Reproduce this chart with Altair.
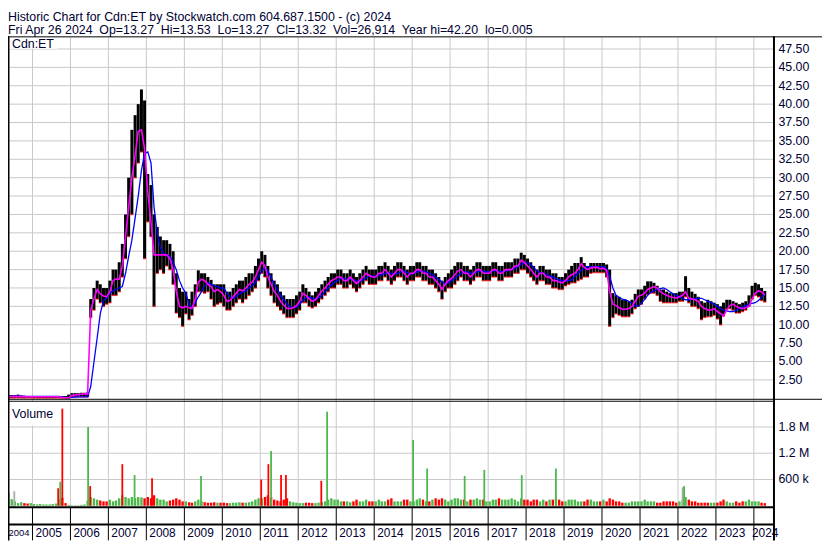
import altair as alt
import pandas as pd

TITLE1 = "Historic Chart for Cdn:ET by Stockwatch.com 604.687.1500 - (c) 2024"
TITLE2 = ("Fri Apr 26 2024\u00a0 Op=13.27\u00a0 Hi=13.53\u00a0 Lo=13.27\u00a0 Cl=13.32\u00a0 "
          "Vol=26,914\u00a0 Year hi=42.20\u00a0 lo=0.005")

# ---- monthly price data, May 2004 .. Apr 2024 ----
hi = [
    0.45, 0.45, 0.45, 0.5, 0.4, 0.35, 0.3, 0.3,                      # 2004 May-Dec
    0.3, 0.3, 0.3, 0.25, 0.25, 0.25, 0.25, 0.25, 0.3, 0.3, 0.3, 0.5,  # 2005
    0.7, 0.7, 0.7, 0.75, 0.75, 0.8, 13.5, 15, 16, 15.5, 15, 15,      # 2006
    16, 17.5, 17.5, 18.5, 21, 25, 30, 36.5, 38.5, 40, 42, 40.5,      # 2007
    30.5, 29, 25, 23.3, 22, 21.5, 21.5, 21, 20, 17, 15, 14.5,        # 2008
    14.5, 13.5, 14.5, 15.5, 17.4, 17, 17, 16.5, 16.1, 15.5, 15.5, 15.5,  # 2009
    15.5, 14.5, 14.5, 15, 15.5, 16, 16, 16.5, 17, 17, 18, 19,        # 2010
    20, 19.5, 18, 17, 16, 15.5, 14.5, 14, 13.5, 13.5, 13.5, 14,      # 2011
    14.5, 15.5, 15, 14.5, 14, 14.5, 15, 15.5, 16, 16.5, 17, 17,      # 2012
    17.5, 17.5, 17, 17, 17.5, 17, 16.5, 17, 17.5, 18, 17.5, 17.5,    # 2013
    17.5, 18, 18, 18.5, 18, 17.5, 18, 18.5, 18.5, 18, 17.5, 18,      # 2014
    18, 18.5, 18.5, 18, 18, 17.5, 17.5, 17, 16.5, 16, 16.5, 17,      # 2015
    17.5, 18, 18.5, 18.5, 18, 18, 17.5, 18, 18.5, 18.5, 18, 18,      # 2016
    18, 18.5, 18.5, 18, 18, 18.5, 18.5, 18.5, 19, 19, 19.8, 19.5,    # 2017
    19, 18.5, 18, 17.5, 18, 18, 17.5, 17.5, 17, 17, 16.5, 16.5,      # 2018
    17, 17.5, 18, 18.4, 18.4, 19.2, 18.4, 18, 18.4, 18.4, 18.4, 18.4,  # 2019
    18.4, 18.2, 17.5, 14.3, 14, 13.8, 13.4, 13.4, 13.2, 13.4, 14.2, 14.8,  # 2020
    14.8, 15.3, 15.9, 15.9, 15.7, 15.3, 14.8, 14.8, 14.5, 14.3, 14.3, 14.3,  # 2021
    14.5, 14.5, 16.6, 15, 14.5, 14.2, 13.8, 13.2, 13, 13.4, 13.2, 13,  # 2022
    12.8, 12.5, 13, 13.4, 13.4, 13.2, 13, 12.8, 13, 13.2, 14, 15.3,  # 2023
    15.7, 15.5, 15, 14.6,                                            # 2024
]
lo = [
    0.05, 0.05, 0.05, 0.05, 0.05, 0.05, 0.05, 0.05,
    0.03, 0.03, 0.03, 0.03, 0.03, 0.03, 0.03, 0.03, 0.03, 0.03, 0.03, 0.03,
    0.2, 0.2, 0.2, 0.2, 0.2, 0.2, 11, 12, 13.5, 13, 12.5, 12.8,
    13, 14, 14, 14.5, 16.5, 19, 22, 25, 30, 32, 33.5, 19,
    24, 22, 12.5, 17, 17.5, 17, 18, 17.5, 15.5, 11.6, 11, 9.8,
    11.5, 10.7, 11.3, 12.5, 14.5, 14.5, 14.3, 14.5, 13.5, 12.5, 12.8, 13,
    12.5, 12, 12, 12.5, 13, 13.5, 13, 13.5, 14, 14.5, 15, 16,
    17, 16.5, 15, 14, 13, 12.5, 12, 11.5, 11, 11, 11, 11.5,
    12, 13, 13, 12.5, 12.3, 12.5, 13, 13.5, 14, 14.5, 15, 15,
    15.5, 15.5, 15, 15, 15.5, 15, 14.5, 15, 15.5, 16, 15.5, 15.5,
    15.5, 16, 16, 16.5, 16, 15.5, 16, 16.5, 16.5, 16, 15.5, 16,
    16, 16.5, 16.5, 16, 16, 15.5, 15.5, 15, 14.5, 13.5, 14.5, 15,
    15, 15.5, 16, 16.5, 16, 16, 15.5, 16, 16.5, 16.5, 16, 16,
    16, 16.5, 16.5, 16, 16, 16.5, 16.5, 16.5, 17, 17, 17.5, 17.5,
    17, 16.5, 16, 15.5, 16, 16, 15.5, 15.5, 15, 15, 14.8, 14.8,
    15.3, 15.5, 15.7, 15.7, 16, 16.2, 16.5, 16.5, 17, 17.1, 17.1, 17.1,
    17.1, 16.5, 9.8, 11, 11.5, 11.3, 11.1, 11.1, 11.1, 11.5, 12.2, 12.5,
    12.8, 13.5, 14.1, 14.3, 14.3, 14, 13.2, 13, 13, 13, 13, 13,
    13.2, 13.2, 13.8, 13, 12.5, 12.5, 12.2, 10.7, 11, 11.1, 11.1, 11.3,
    10.8, 10, 11.2, 12.1, 12.2, 12, 11.6, 11.6, 11.8, 12, 12.5, 13.5,
    14, 13.8, 13.3, 13.1,
]
ma_fast = [
    0.25, 0.25, 0.25, 0.25, 0.25, 0.22, 0.2, 0.2,
    0.2, 0.2, 0.2, 0.2, 0.2, 0.2, 0.2, 0.2, 0.2, 0.1, 0.07, 0.07,
    0.4, 0.45, 0.5, 0.55, 0.6, 0.6, 12, 13.5, 14.8, 14.2, 13.9, 13.8,
    14.5, 16, 16.2, 16.2, 18, 22, 26, 30, 33, 36.3, 36.5, 34,
    28, 24, 19.5, 19.5, 19.5, 19.5, 19.5, 19, 17.5, 14.5, 12.5, 12.3,
    12.5, 12.3, 12.2, 13.5, 15.8, 16.2, 16, 15.5, 15.2, 14.5, 14.8, 14.5,
    14, 13.2, 13.3, 13.8, 14.3, 14.8, 14.6, 15, 15.5, 15.8, 16.5, 17.5,
    18.5, 18, 16.5, 15.5, 14.5, 14, 13.2, 12.7, 12.2, 12.2, 12.3, 12.6,
    13.2, 14.3, 14, 13.5, 13.2, 13.4, 14, 14.6, 15, 15.5, 16, 16.2,
    16.5, 16.5, 16, 16, 16.5, 16, 15.6, 16, 16.5, 17, 16.7, 16.5,
    16.5, 17, 17, 17.5, 17, 16.5, 17, 17.5, 17.5, 17, 16.5, 17,
    17, 17.5, 17.5, 17, 17, 16.5, 16.5, 16, 15.5, 14.8, 15.5, 16,
    16.3, 16.8, 17.3, 17.5, 17, 17, 16.5, 17, 17.5, 17.5, 17, 17,
    17, 17.5, 17.5, 17, 17, 17.5, 17.5, 17.5, 18, 18, 18.8, 18.5,
    18, 17.5, 17, 16.5, 17, 17, 16.5, 16.5, 16, 16, 15.8, 15.7,
    16, 16.5, 16.8, 17, 17.5, 18.3, 17.8, 17.5, 17.7, 17.8, 17.8, 17.6,
    17.7, 17.4, 14.5, 12.8, 12.6, 12.3, 12.1, 12.1, 12.2, 12.5, 13.2, 13.9,
    14, 14.3, 14.8, 15, 15.2, 15, 14.5, 14.2, 14, 13.8, 13.7, 13.6,
    13.8, 14, 14.5, 13.6, 13.5, 13.4, 13.2, 12.5, 12.2, 12, 12, 12.2,
    11.8, 11.5, 11.2, 12, 12.6, 12.8, 12.5, 12.3, 12.2, 12.3, 12.5, 13.5,
    14.3, 14.6, 14.5, 14,
]
ma_slow = [
    0.3, 0.3, 0.3, 0.3, 0.28, 0.25, 0.25, 0.25,
    0.25, 0.25, 0.25, 0.25, 0.25, 0.25, 0.25, 0.25, 0.25, 0.15, 0.1, 0.1,
    0.12, 0.15, 0.18, 0.2, 0.2, 0.2, 1.6, 4.9, 8.2, 11.5, 13.3, 13.6,
    14.3, 14.6, 14.8, 15, 15.2, 17, 19.3, 21.5, 24.5, 27.5, 31, 33.3,
    33.5, 32, 26, 22.5, 20.5, 19.7, 19.5, 19.3, 18.5, 17.5, 16, 15,
    14.3, 12.8, 12.3, 13, 13.8, 14.5, 15.3, 15.7, 15.5, 15.3, 15.2, 15,
    15, 14.3, 13.8, 13.6, 13.8, 14.2, 14.4, 14.6, 15, 15.3, 15.8, 16.5,
    17.3, 17.8, 17.3, 16.5, 15.5, 14.8, 14, 13.4, 12.8, 12.5, 12.3, 12.4,
    12.8, 13.3, 13.7, 13.8, 13.6, 13.5, 13.6, 14, 14.5, 15, 15.4, 15.8,
    16, 16.3, 16.3, 16.2, 16.2, 16.1, 16, 15.9, 16.1, 16.4, 16.6, 16.6,
    16.6, 16.7, 16.8, 17, 17.1, 17, 16.9, 17, 17.2, 17.3, 17.1, 16.9,
    17, 17.2, 17.3, 17.3, 17.2, 17, 16.8, 16.5, 16.2, 15.8, 15.6, 15.7,
    16, 16.3, 16.7, 17, 17.2, 17.2, 17, 17, 17.2, 17.3, 17.3, 17.2,
    17.2, 17.3, 17.4, 17.3, 17.2, 17.3, 17.4, 17.5, 17.7, 17.9, 18.2, 18.4,
    18.4, 18.2, 17.8, 17.3, 17.1, 17, 16.9, 16.7, 16.5, 16.3, 16.1, 16,
    16, 16, 16.1, 16.6, 17, 17.4, 17.7, 17.9, 17.9, 17.9, 17.9, 17.9,
    17.9, 17.6, 16.6, 15, 14, 13.7, 13.5, 13.4, 13.2, 12.9, 12.6, 12.5,
    12.9, 13.5, 14, 14.4, 14.6, 14.8, 14.9, 15, 14.8, 14.5, 14.2, 14,
    13.8, 13.6, 13.4, 13.4, 13.5, 13.6, 13.6, 13.6, 13.4, 13.2, 13, 12.8,
    12.5, 12.2, 12, 11.9, 11.8, 11.8, 12, 12.2, 12.4, 12.6, 12.8, 12.9,
    13, 13.3, 13.7, 14.2,
]
# typical monthly volume (thousands of shares), May 2004 .. Apr 2024
vol = [
    300, 150, 100, 60, 80, 60, 50, 60,
    40, 30, 40, 30, 30, 30, 40, 50, 150, 180, 60, 20,
    10, 10, 10, 20, 30, 120, 200, 170, 140, 120, 100, 100,
    140, 100, 120, 170, 240, 200, 170, 200, 170, 200, 190, 170,
    200, 170, 240, 170, 140, 140, 100, 120, 140, 170, 140, 100,
    100, 80, 70, 100, 140, 100, 80, 70, 70, 80, 70, 70,
    70, 60, 60, 70, 70, 80, 70, 70, 80, 100, 140, 170,
    170, 200, 240, 200, 140, 120, 100, 140, 170, 100, 80, 70,
    60, 60, 70, 70, 60, 60, 70, 80, 100, 140, 170, 140,
    140, 100, 100, 100, 80, 100, 140, 100, 100, 140, 100, 100,
    100, 140, 100, 100, 140, 170, 100, 100, 100, 140, 140, 100,
    100, 140, 170, 140, 100, 100, 140, 170, 140, 170, 140, 100,
    140, 170, 170, 140, 140, 100, 140, 140, 170, 140, 140, 100,
    100, 140, 140, 170, 140, 140, 140, 170, 140, 100, 170, 140,
    140, 100, 140, 140, 100, 140, 100, 140, 140, 170, 140, 100,
    100, 140, 140, 140, 100, 100, 100, 140, 140, 100, 100, 100,
    140, 100, 170, 140, 100, 100, 70, 70, 70, 100, 100, 100,
    100, 140, 100, 100, 100, 70, 70, 100, 100, 100, 100, 70,
    100, 140, 200, 140, 100, 100, 70, 70, 70, 70, 70, 70,
    70, 100, 140, 100, 70, 70, 100, 70, 100, 100, 140, 100,
    100, 100, 70, 60,
]
# single-day volume spikes (date, thousands, colour)
spike_date = ["2004-07-10", "2005-09-05", "2005-09-25", "2005-10-15", "2006-06-20",
              "2006-07-10", "2007-05-15", "2007-09-10", "2008-02-25", "2009-06-10",
              "2011-01-10", "2011-03-20", "2011-04-15", "2011-07-20", "2011-09-05",
              "2012-08-10", "2012-10-05", "2015-01-10", "2015-05-25", "2016-05-20",
              "2016-11-25", "2017-11-20", "2018-10-15", "2022-02-15", "2022-03-01"]
spike_vol = [330, 400, 550, 2220, 1800, 450, 950, 700, 630, 680, 600, 950, 1250, 700,
             700, 570, 2150, 1500, 850, 680, 820, 700, 850, 420, 450]
spike_col = ["x", "r", "g", "r", "g", "r", "r", "g", "r", "g", "r", "r", "g", "r",
             "r", "r", "g", "g", "g", "g", "g", "g", "g", "x", "g"]

price_ticks = [2.5, 5.0, 7.5, 10.0, 12.5, 15.0, 17.5, 20.0, 22.5, 25.0, 27.5, 30.0,
               32.5, 35.0, 37.5, 40.0, 42.5, 45.0, 47.5]
vol_ticks = [600000, 1200000, 1800000]
vol_tick_labels = ["600 k", "1.2 M", "1.8 M"]
years = [2005, 2006, 2007, 2008, 2009, 2010, 2011, 2012, 2013, 2014, 2015, 2016,
         2017, 2018, 2019, 2020, 2021, 2022, 2023, 2024]
year_labels = ["2005", "2006", "2007", "2008", "2009", "2010", "2011", "2012",
               "2013", "2014", "2015", "2016", "2017", "2018", "2019", "2020", "2021",
               "2022", "2023"]

# ---- tables ----
dates = (pd.date_range("2004-05-01", periods=len(hi), freq="MS") + pd.Timedelta(days=14))
dates = dates.strftime("%Y-%m-%d")
px = pd.DataFrame({"date": dates, "hi": hi, "lo": lo, "fast": ma_fast, "slow": ma_slow})
vdf = pd.DataFrame({"date": dates, "vol": [v * 1000 for v in vol]})
vdf["c"] = ["g" if i == 0 or ma_fast[i] >= ma_fast[i - 1] else "r" for i in range(len(vol))]
sdf = pd.DataFrame({"date": spike_date, "vol": [v * 1000 for v in spike_vol], "c": spike_col})
ydf = pd.DataFrame({"date": [f"{y}-01-01" for y in years]})
ldf = pd.DataFrame({"date": [f"{y}-01-01" for y in years[:-1]], "label": year_labels})

W, H = 773, 535
FONT = "Liberation Sans"
TXT = "#000033"
GRID = "#c8c8c8"

xs = alt.Scale(domain=[alt.DateTime(year=2004, month=6, date=27),
                       alt.DateTime(year=2024, month=5, date=21)], range=[0, W])
ps = alt.Scale(domain=[0, 49.15], range=[391.5, 26.5], nice=False, zero=False)
vs = alt.Scale(domain=[0, 2377000], range=[500, 395], nice=False)
X = alt.X("date:T", scale=xs, axis=None)

one = pd.DataFrame({"a": [0]})


def hline(y, x0=0, x1=W, color="black", w=1.0):
    return alt.Chart(one).mark_rule(color=color, strokeWidth=w).encode(
        x=alt.value(x0), x2=alt.value(x1), y=alt.value(y))


def vline(x, y0, y1, color="black", w=1.0):
    return alt.Chart(one).mark_rule(color=color, strokeWidth=w).encode(
        x=alt.value(x), y=alt.value(y0), y2=alt.value(y1))


vgrid = alt.Chart(ydf).mark_rule(color=GRID, strokeWidth=1).encode(
    x=X, y=alt.value(27), y2=alt.value(501))
vdiv = alt.Chart(ydf).mark_rule(color="black", strokeWidth=1).encode(
    x=X, y=alt.value(502), y2=alt.value(535))
pgrid = alt.Chart(pd.DataFrame({"p": price_ticks})).mark_rule(color=GRID).encode(
    y=alt.Y("p:Q", scale=ps, axis=None), x=alt.value(0), x2=alt.value(W))
vgrid2 = alt.Chart(pd.DataFrame({"v": vol_ticks})).mark_rule(color=GRID).encode(
    y=alt.Y("v:Q", scale=vs, axis=None), x=alt.value(0), x2=alt.value(W))

box1 = alt.Chart(one).mark_rect(color="white").encode(
    x=alt.value(1), x2=alt.value(50), y=alt.value(27), y2=alt.value(38.5))
box2 = alt.Chart(one).mark_rect(color="white").encode(
    x=alt.value(1), x2=alt.value(52), y=alt.value(395), y2=alt.value(419))

bars = alt.Chart(px).mark_rule(color="black", strokeWidth=3.0).encode(
    x=X, y=alt.Y("lo:Q", scale=ps, axis=None), y2="hi:Q")
red = alt.Chart(px).mark_tick(color="#ff0000", thickness=1.5, size=3, orient="horizontal").encode(
    x=X, y=alt.Y("lo:Q", scale=ps, axis=None))
slow = alt.Chart(px).mark_line(color="#0000ff", strokeWidth=1.3).encode(
    x=X, y=alt.Y("slow:Q", scale=ps, axis=None))
fast = alt.Chart(px).mark_line(color="#ff00ff", strokeWidth=1.6).encode(
    x=X, y=alt.Y("fast:Q", scale=ps, axis=None))

cscale = alt.Scale(domain=["r", "g", "x"], range=["#ff0000", "#4cb84c", "#a8a8a8"])
vbars = alt.Chart(vdf).mark_bar(width=2.4).encode(
    x=X, y=alt.Y("vol:Q", scale=vs, axis=None),
    color=alt.Color("c:N", scale=cscale, legend=None))
sbars = alt.Chart(sdf).mark_bar(width=1.8).encode(
    x=X, y=alt.Y("vol:Q", scale=vs, axis=None),
    color=alt.Color("c:N", scale=cscale, legend=None))

ptext = alt.Chart(pd.DataFrame({"p": price_ticks})).mark_text(
    align="left", baseline="middle", font=FONT, fontSize=12.5, color=TXT).encode(
    y=alt.Y("p:Q", scale=ps, axis=None), x=alt.value(778), text=alt.Text("p:Q", format=".2f"))
vtext = alt.Chart(pd.DataFrame({"v": vol_ticks, "t": vol_tick_labels})).mark_text(
    align="left", baseline="middle", font=FONT, fontSize=12.5, color=TXT).encode(
    y=alt.Y("v:Q", scale=vs, axis=None), x=alt.value(778), text="t:N")
ytext = alt.Chart(ldf).mark_text(align="left", baseline="alphabetic", dx=3,
                                 font=FONT, fontSize=12, color=TXT).encode(
    x=X, y=alt.value(532), text="label:N")
ytext_first = alt.Chart(pd.DataFrame({"t": ["2004"]})).mark_text(
    align="left", baseline="alphabetic", font=FONT, fontSize=9.5, color=TXT).encode(
    x=alt.value(0.5), y=alt.value(531), text="t:N")
ytext_last = alt.Chart(pd.DataFrame({"t": ["2024"]})).mark_text(
    align="right", baseline="alphabetic", font=FONT, fontSize=12, color=TXT).encode(
    x=alt.value(W + 5), y=alt.value(532), text="t:N")


def label(t, x, y):
    return alt.Chart(pd.DataFrame({"t": [t]})).mark_text(
        align="left", baseline="alphabetic", font=FONT, fontSize=12.5, color=TXT).encode(
        x=alt.value(x), y=alt.value(y), text="t:N")


layers = [
    vgrid, pgrid, vgrid2, vdiv, box1, box2,
    bars, red, slow, fast, vbars, sbars,
    hline(26.5, 0, 822), hline(392.5, 0, 822), hline(394.5, 0, W),
    hline(501.5, 0, W, w=2), hline(519, 0, W, w=2),
    vline(0.5, 26, 535, w=2), vline(W + 0.5, 26, 535, w=2),
    ptext, vtext, ytext, ytext_first, ytext_last,
    label(TITLE1, 0, 11), label(TITLE2, 0, 24),
    label("Cdn:ET", 4, 37.5), label("Volume", 4, 411),
]

chart = alt.layer(*layers).resolve_scale(y="independent", color="shared").properties(
    width=W, height=H,
    autosize=alt.AutoSizeParams(type="none"),
    padding={"left": 0, "top": 0, "right": 49, "bottom": 0},
).configure_view(stroke=None)

chart.save("out.html", embed_options={"renderer": "svg", "actions": False})
